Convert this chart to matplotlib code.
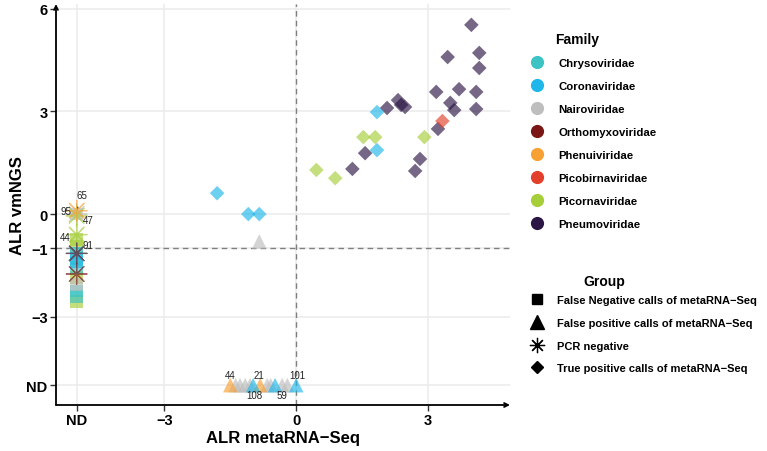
import matplotlib.pyplot as plt
from matplotlib.lines import Line2D

plt.rcParams['font.family'] = ['Liberation Sans', 'DejaVu Sans']

ND = -5  # position used for "not detected"

families = ['Chrysoviridae', 'Coronaviridae', 'Nairoviridae', 'Orthomyxoviridae',
            'Phenuiviridae', 'Picobirnaviridae', 'Picornaviridae', 'Pneumoviridae']
family_colors = ['#3CC3C3', '#1FB7EA', '#BEBEBE', '#7A1616',
                 '#F7A033', '#E2402A', '#A6CE39', '#2B1544']

groups = ['False Negative calls of metaRNA\u2212Seq', 'False positive calls of metaRNA\u2212Seq',
          'PCR negative', 'True positive calls of metaRNA\u2212Seq']

# True positive calls (diamonds)
tp_family = (['Pneumoviridae'] * 19 + ['Coronaviridae'] * 5
             + ['Picornaviridae'] * 5 + ['Picobirnaviridae'])
tp_x = [3.99, 3.45, 4.17, 4.17, 3.19, 3.71, 4.10, 3.51, 3.60, 4.10,
        2.32, 2.39, 2.48, 2.07, 3.23, 1.57, 2.82, 2.71, 1.28,
        1.84, 1.84, -1.80, -1.09, -0.84,
        2.92, 1.53, 1.80, 0.46, 0.89,
        3.33]
tp_y = [5.53, 4.59, 4.71, 4.27, 3.57, 3.65, 3.57, 3.25, 3.04, 3.07,
        3.33, 3.19, 3.13, 3.10, 2.49, 1.78, 1.61, 1.26, 1.32,
        2.98, 1.87, 0.61, 0.00, 0.00,
        2.25, 2.25, 2.25, 1.29, 1.05,
        2.72]

# False positive calls (triangles)
fp_family = (['Nairoviridae'] * 9 + ['Phenuiviridae'] * 2 + ['Coronaviridae'] * 3)
fp_x = [-0.84, -1.38, -1.28, -1.16, -1.05, -0.66, -0.58, -0.32, -0.20,
        -1.50, -0.82,
        -0.98, -0.48, 0.00]
fp_y = [-0.80, ND, ND, ND, ND, ND, ND, ND, ND,
        ND, ND,
        ND, ND, ND]

# False negative calls (squares), all ND on metaRNA-Seq
fn_family = (['Picornaviridae'] * 4 + ['Chrysoviridae'] * 4
             + ['Coronaviridae'] * 2 + ['Nairoviridae'] * 2)
fn_y = [-0.75, -0.95, -1.85, -2.55,
        -1.30, -1.55, -2.25, -2.40,
        -1.15, -1.40,
        0.00, -2.05]

# PCR negative (asterisks), all ND on metaRNA-Seq
pcr_family = ['Nairoviridae', 'Picornaviridae', 'Phenuiviridae', 'Picornaviridae',
              'Coronaviridae', 'Orthomyxoviridae', 'Orthomyxoviridae']
pcr_y = [0.00, -0.05, 0.10, -0.60, -1.15, -1.15, -1.75]

# sample labels: (text, x, y, offset in points)
point_labels = [('65', ND, 0.10, (4, 11)), ('95', ND, 0.00, (-8, 2)),
                ('47', ND, -0.05, (8, -3)), ('44', ND, -0.60, (-8, -2)),
                ('91', ND, -1.15, (8, 6)),
                ('44', -1.50, ND, (0, 7)), ('21', -0.82, ND, (-1, 7)),
                ('108', -1.05, ND, (3, -7)), ('59', -0.32, ND, (0, -7)),
                ('101', 0.00, ND, (1, 7))]

color_of = dict(zip(families, family_colors))

fig = plt.figure(figsize=(7.67, 4.52), dpi=100)
ax = fig.add_axes([56 / 767, 1 - 406 / 452, (510 - 56) / 767, (406 - 5) / 452])
ax.set_xlim(-5.47, 4.87)
ax.set_ylim(-5.58, 6.14)

ax.set_xticks([-5, -3, 0, 3])
ax.set_xticklabels(['ND', '\u22123', '0', '3'])
ax.set_yticks([-5, -3, -1, 0, 3, 6])
ax.set_yticklabels(['ND', '\u22123', '\u22121', '0', '3', '6'])
ax.grid(True, color='#EBEBEB', lw=1.1)
ax.set_axisbelow(True)
ax.tick_params(direction='out', length=4, width=1, color='#333333', labelsize=10.5, pad=2)
for lab in ax.get_xticklabels() + ax.get_yticklabels():
    lab.set_fontweight('bold')
for s in ax.spines.values():
    s.set_visible(False)

ax.axvline(0, color='#7F7F7F', ls=(0, (4, 3)), lw=1, zorder=1)
ax.axhline(-1, color='#7F7F7F', ls=(0, (4, 3)), lw=1, zorder=1)

alpha = 0.65
ax.scatter([ND] * len(fn_y), fn_y, marker='s', s=85, lw=0,
           c=[color_of[f] for f in fn_family], alpha=alpha, zorder=2)
ax.scatter(fp_x, fp_y, marker='^', s=110, lw=0,
           c=[color_of[f] for f in fp_family], alpha=alpha, zorder=2)
ax.scatter(tp_x, tp_y, marker='D', s=55, lw=0,
           c=[color_of[f] for f in tp_family], alpha=alpha, zorder=2)
ax.scatter([ND] * len(pcr_y), pcr_y, marker=(8, 2, 0), s=220, lw=0.9,
           c=[color_of[f] for f in pcr_family], alpha=alpha, zorder=3)

for text, x, y, off in point_labels:
    ax.annotate(text, (x, y), xytext=off, textcoords='offset points',
                ha='center', va='center', fontsize=7, color='#222222', zorder=4,
                arrowprops=dict(arrowstyle='-', lw=0.7, color='#222222',
                                shrinkA=3, shrinkB=2) if text == '65' else None)

# axis lines with arrows
ax.annotate('', xy=(0, 1), xytext=(0, 0), xycoords='axes fraction',
            arrowprops=dict(arrowstyle='->', lw=1.3, color='black',
                            shrinkA=0, shrinkB=0, mutation_scale=7))
ax.annotate('', xy=(1, 0), xytext=(0, 0), xycoords='axes fraction',
            arrowprops=dict(arrowstyle='->', lw=1.3, color='black',
                            shrinkA=0, shrinkB=0, mutation_scale=7))

ax.set_xlabel('ALR metaRNA\u2212Seq', fontsize=12, fontweight='bold', labelpad=2)
ax.set_ylabel('ALR vmNGS', fontsize=12, fontweight='bold', labelpad=1)

# legends
fam_handles = [Line2D([], [], ls='', marker='o', ms=9.5, color=c, mec='none')
               for c in family_colors]
fig.legend(fam_handles, families, loc='upper left',
           bbox_to_anchor=(530 / 767, 1 - 59 / 452), frameon=False,
           prop={'weight': 'bold', 'size': 8.2}, handlelength=1.2,
           handletextpad=1.3, labelspacing=1.14, borderpad=0,
           borderaxespad=0)
fig.text(577 / 767, 1 - 40 / 452, 'Family', fontsize=10, fontweight='bold',
         ha='center', va='center')

grp_handles = [Line2D([], [], ls='', marker='s', ms=7.5, color='black'),
               Line2D([], [], ls='', marker='^', ms=9.5, color='black'),
               Line2D([], [], ls='', marker=(8, 2, 0), ms=11, mew=0.9, color='black'),
               Line2D([], [], ls='', marker='D', ms=6.5, color='black')]
fig.legend(grp_handles, groups, loc='upper left',
           bbox_to_anchor=(530 / 767, 1 - 296 / 452), frameon=False,
           prop={'weight': 'bold', 'size': 8}, handlelength=1.2,
           handletextpad=1.2, labelspacing=1.15, borderpad=0,
           borderaxespad=0)
fig.text(604 / 767, 1 - 282 / 452, 'Group', fontsize=10, fontweight='bold',
         ha='center', va='center')

fig.savefig('out.png', dpi=100)
